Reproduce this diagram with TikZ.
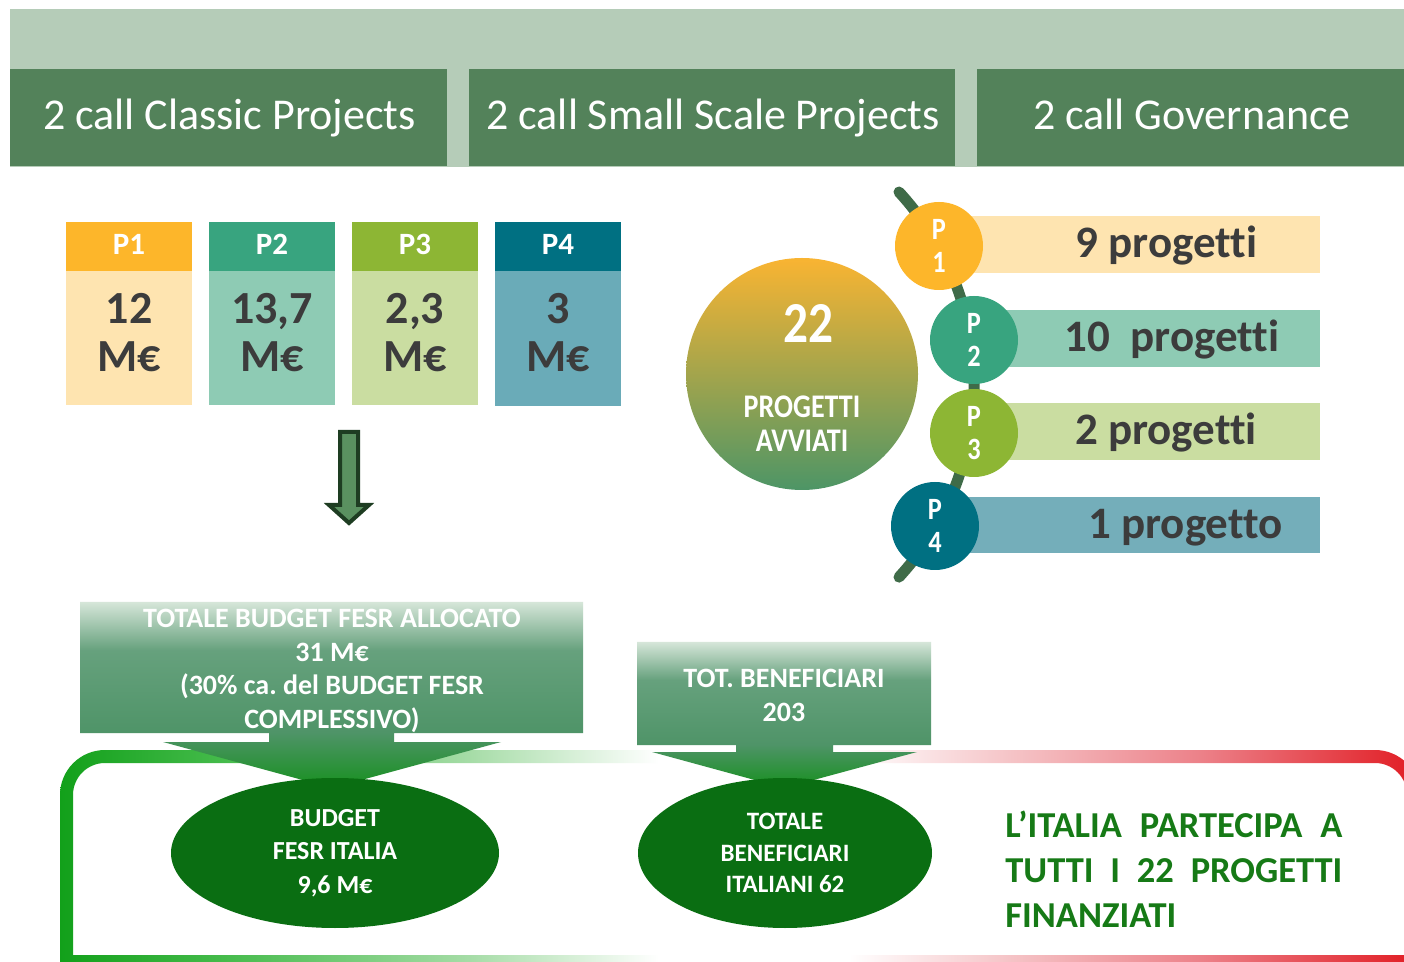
\documentclass[tikz,border=0pt]{standalone}
\usepackage{fontspec}
\setmainfont{Carlito}[Ligatures={NoCommon,NoContextual}]
\newfontfamily\condf[FakeStretch=0.85,Ligatures={NoCommon,NoContextual}]{Carlito}
\usetikzlibrary{shapes.geometric}
\frenchspacing
\definecolor{bannerLight}{HTML}{B5CCB8}
\definecolor{bannerDark}{HTML}{53825A}
\definecolor{pOneH}{HTML}{FDB62A}
\definecolor{pOneB}{HTML}{FEE4B0}
\definecolor{pTwoH}{HTML}{38A47F}
\definecolor{pTwoB}{HTML}{8ECBB4}
\definecolor{pThreeH}{HTML}{8DB634}
\definecolor{pThreeB}{HTML}{CADDA1}
\definecolor{pFourH}{HTML}{007082}
\definecolor{pFourB}{HTML}{6AABB8}
\definecolor{barFour}{HTML}{74AEBA}
\definecolor{numgray}{HTML}{3C3C3C}
\definecolor{arcgreen}{HTML}{3F6B48}
\definecolor{arrowfill}{HTML}{5A9160}
\definecolor{arrowline}{HTML}{1E3D22}
\definecolor{ellgreen}{HTML}{0A6E12}
\definecolor{txtgreen}{HTML}{167A16}
\definecolor{circTop}{HTML}{F9B432}
\definecolor{circMid}{HTML}{C4A84C}
\definecolor{circBot}{HTML}{4D9566}
\definecolor{cTop}{HTML}{D6E6D9}
\definecolor{cMid}{HTML}{66A17D}
\definecolor{cLow}{HTML}{4F9468}
\definecolor{cTip}{HTML}{17901F}
\definecolor{fG}{HTML}{12A01A}
\definecolor{fGb}{HTML}{45BB4B}
\definecolor{fGc}{HTML}{A5DCA6}
\definecolor{fRc}{HTML}{F5C3C6}
\definecolor{fRb}{HTML}{EC8088}
\definecolor{fR}{HTML}{E11B22}
\pgfdeclareverticalshading{callshade}{100bp}{color(0bp)=(cTip); color(25bp)=(cTip); color(40bp)=(cLow); color(62bp)=(cMid); color(75bp)=(cTop); color(100bp)=(cTop)}
\pgfdeclarehorizontalshading{flagshade}{100bp}{color(0bp)=(fG); color(25bp)=(fG); color(31bp)=(fGb); color(40bp)=(fGc); color(47bp)=(white); color(54bp)=(white); color(60bp)=(fRc); color(67bp)=(fRb); color(75bp)=(fR); color(100bp)=(fR)}
\begin{document}
\begin{tikzpicture}[x=0.5pt,y=-0.5pt,
  hdr/.style={text=white, font=\fontsize{22}{26}\selectfont, anchor=base, inner sep=0},
  phead/.style={text=white, font=\bfseries\fontsize{15.5}{18}\selectfont, anchor=base, inner sep=0},
  pnum/.style={text=numgray, font=\bfseries\fontsize{23}{24}\selectfont, align=center, inner sep=0},
  bartext/.style={text=numgray, font=\bfseries\fontsize{22.5}{26}\selectfont, anchor=base, inner sep=0},
  pcirc/.style={circle, minimum size=44pt, inner sep=0, text=white, font=\condf\bfseries\fontsize{15.5}{16.5}\selectfont, align=center},
  calltext/.style={text=white, font=\bfseries\fontsize{14}{16.75}\selectfont, align=center, inner sep=0},
  ell/.style={ellipse, fill=ellgreen, text=white, align=center, inner sep=0, minimum height=75pt},
]
\useasboundingbox (0,0) rectangle (1404,962);
\clip (0,0) rectangle (1404,962);
\fill[white] (0,0) rectangle (1404,962);

% banner
\fill[bannerLight] (10,9) rectangle (1404,167);
\fill[bannerDark] (10,69) rectangle (447,166);
\fill[bannerDark] (469,69) rectangle (955,166);
\fill[bannerDark] (977,69) rectangle (1404,166);
\node[hdr] (h1) at (229.5,130) {2 call Classic Projects};
\node[hdr] (h2) at (713,130) {2 call Small Scale Projects};
\node[hdr] (h3) at (1191.5,130) {2 call Governance};

% priority boxes
\fill[pOneH] (66,222) rectangle (192,271);
\fill[pOneB] (66,271) rectangle (192,405);
\fill[pTwoH] (209,222) rectangle (335,271);
\fill[pTwoB] (209,271) rectangle (335,405);
\fill[pThreeH] (352,222) rectangle (478,271);
\fill[pThreeB] (352,271) rectangle (478,405);
\fill[pFourH] (495,222) rectangle (621,271);
\fill[pFourB] (495,271) rectangle (621,406);
\node[phead] (ph1) at (129,255) {P1};
\node[phead] (ph2) at (272,255) {P2};
\node[phead] (ph3) at (415,255) {P3};
\node[phead] (ph4) at (558,255) {P4};
\node[pnum] (pn1) at (129,332.5) {12\\M€};
\node[pnum] (pn2) at (272,332.5) {13,7\\M€};
\node[pnum] (pn3) at (415,332.5) {2,3\\M€};
\node[pnum] (pn4) at (558,332.5) {3\\M€};

% block arrow
\filldraw[fill=arrowfill, draw=arrowline, line width=2pt, line join=miter]
  (340,432) -- (358,432) -- (358,505) -- (369,505) -- (349,523) -- (329,505) -- (340,505) -- cycle;

% big circle
\node[circle, minimum size=116pt, inner sep=0, top color=circTop, middle color=circMid, bottom color=circBot] (big) at (802,374) {};
\node[text=white, font=\condf\bfseries\fontsize{29}{30}\selectfont, inner sep=0] (num22) at (808.5,323.5) {22};
\node[text=white, font=\condf\bfseries\fontsize{16.5}{17}\selectfont, align=center, inner sep=0] (avv) at (802,424) {PROGETTI\\AVVIATI};

% bars
\fill[pOneB] (958,216) rectangle (1320,273);
\fill[pTwoB] (990,310) rectangle (1320,367);
\fill[pThreeB] (990,403) rectangle (1320,460);
\fill[barFour] (955,497) rectangle (1320,553);
\node[bartext] (b1) at (1166.5,258) {9 progetti};
\node[bartext] (b2) at (1172,352) {10\ \ progetti};
\node[bartext] (b3) at (1166,445) {2 progetti};
\node[bartext] (b4) at (1185.5,539) {1 progetto};

% spine arc
\draw[arcgreen, line width=5.5pt, line cap=round] (899,192) arc[start angle=-42.6, end angle=42.6, radius=284.5];

% priority circles
\node[pcirc, fill=pOneH] (pc1) at (939,246) {P\\1};
\node[pcirc, fill=pTwoH] (pc2) at (974,340) {P\\2};
\node[pcirc, fill=pThreeH] (pc3) at (974,433) {P\\3};
\node[pcirc, fill=pFourH] (pc4) at (935,526) {P\\4};

% flag frame
\shade[shading=flagshade, even odd rule]
  (60,967) -- (60,795) arc[start angle=180, end angle=270, radius=45] -- (1375,750)
  arc[start angle=270, end angle=360, radius=45] -- (1420,967) -- cycle
  (73,955) -- (73,795) arc[start angle=180, end angle=270, radius=32] -- (1375,763)
  arc[start angle=270, end angle=360, radius=32] -- (1407,955) -- cycle;

% callouts
\shade[shading=callshade]
  (80,602) -- (583,602) -- (583,733) -- (394,733) -- (394,742) -- (501,742) -- (332,788)
  -- (163,742) -- (269,742) -- (269,733) -- (80,733) -- cycle;
\shade[shading=callshade]
  (637,642) -- (931,642) -- (931,745) -- (833,745) -- (833,752) -- (917,752) -- (784,788)
  -- (652,752) -- (736,752) -- (736,745) -- (637,745) -- cycle;
\node[calltext] (c1t) at (332,671) {TOTALE BUDGET FESR ALLOCATO\\31 M€\\(30\% ca. del BUDGET FESR\\COMPLESSIVO)};
\node[calltext] (c2t) at (784,695.5) {TOT. BENEFICIARI\\203};

% ellipses
\node[ell, minimum width=164pt, font=\bfseries\fontsize{13}{16.75}\selectfont] (e1) at (335,853) {BUDGET\\FESR ITALIA\\9,6 M€};
\node[ell, minimum width=147pt, font=\bfseries\fontsize{12.5}{15.75}\selectfont] (e2) at (785,853) {TOTALE\\BENEFICIARI\\ITALIANI 62};

% statement
\node[anchor=west, inner sep=0, align=left, text=txtgreen, font=\bfseries\fontsize{18.25}{22.5}\selectfont] (ital) at (1005,869)
  {\makebox[168.5pt][s]{L’ITALIA PARTECIPA A}\\\makebox[168.5pt][s]{TUTTI I 22 PROGETTI}\\FINANZIATI};
\end{tikzpicture}
\end{document}
